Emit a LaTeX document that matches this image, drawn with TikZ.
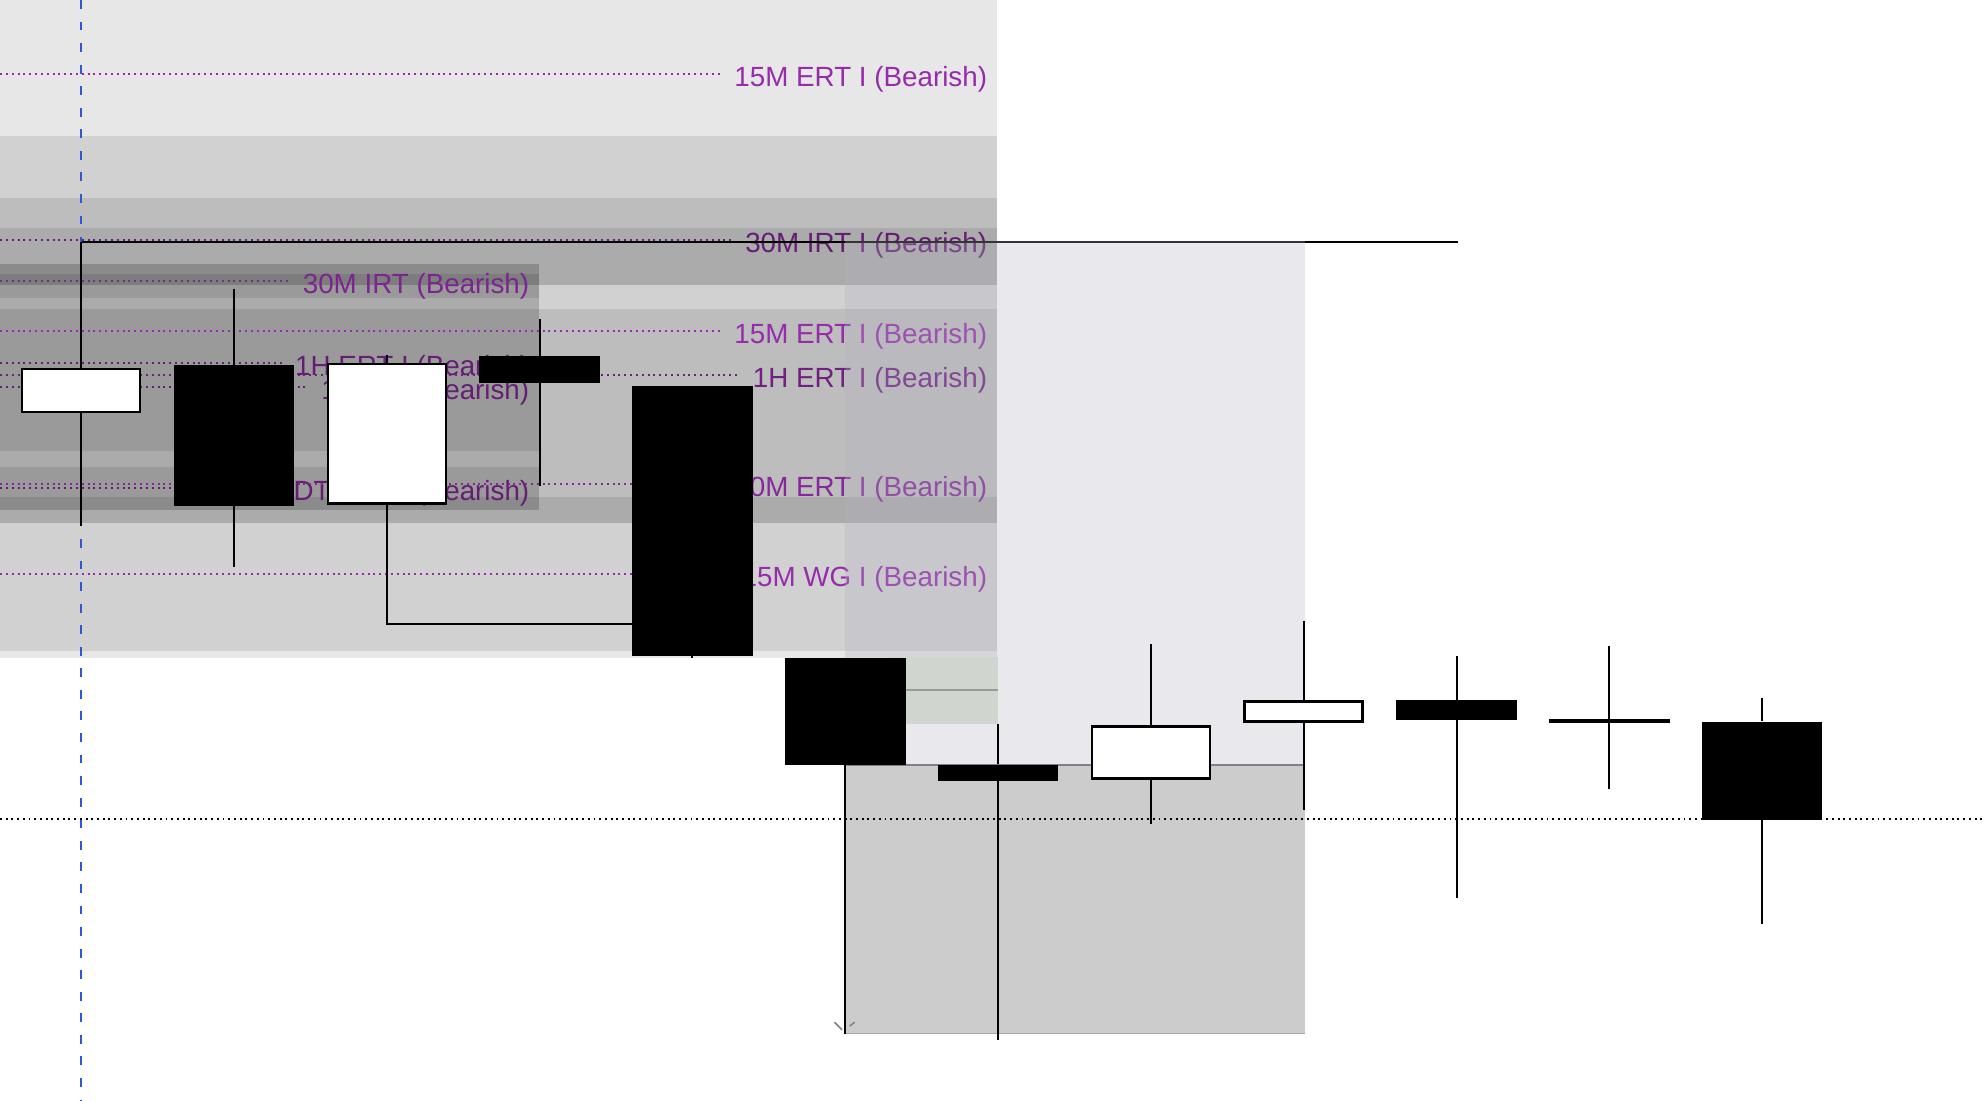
\documentclass[tikz,border=0pt]{standalone}
\usepackage{fontspec}
\setmainfont{Liberation Sans}

\definecolor{lvlbright}{RGB}{150,44,171}
\definecolor{lvlmid}{RGB}{134,40,154}
\definecolor{lvlsoft}{RGB}{124,36,144}
\definecolor{lvldark}{RGB}{112,32,128}
\definecolor{lvldeep}{RGB}{102,30,116}
\definecolor{pivotblue}{RGB}{48,86,216}
\definecolor{veil}{RGB}{176,176,193}
\definecolor{lowzone}{RGB}{204,204,204}
\definecolor{lowedge}{RGB}{126,128,142}
\definecolor{gapfill}{RGB}{208,213,208}
\definecolor{gapline}{RGB}{152,156,152}

\begin{document}
\begin{tikzpicture}[x=1pt, y=-1pt,
						% Define styles for labels, levels, zones and candles
						label style/.style={anchor=east, inner sep=0pt, text height=20pt, text depth=0pt, text=#1, font=\fontsize{21.9}{24}\selectfont},
						level line/.style={#1, line width=1.6pt, dash pattern=on 1.6pt off 3pt, shorten >=10pt},
						band/.style={fill=black, fill opacity=0.095},
						wick/.style={black, line width=1.6pt},
						bull/.style={rectangle, draw=black, line width=2pt, fill=white, minimum width=93pt, inner sep=0pt},
						bear/.style={rectangle, fill=black, minimum width=95pt, inner sep=0pt}
						]
						
						\fill[white] (0,0) rectangle (1566,867.4);
						\useasboundingbox (0,0) rectangle (1566,867.4);
						\coordinate (lx) at (0,0);
						
						% --- Zones ---
						\fill[band] (0,0) rectangle (786,519);
						\fill[band] (0,107) rectangle (786,513.5);
						\fill[band] (0,156) rectangle (786,225);
						\fill[band] (0,180) rectangle (786,225);
						\fill[band] (0,244) rectangle (786,412);
						\fill[band] (0,392) rectangle (786,412);
						\fill[band] (0,208) rectangle (425,402);
						\fill[band] (0,208) rectangle (425,356);
						\fill[band] (0,216) rectangle (425,235);
						\fill[band] (0,368) rectangle (425,402);
						
						% Define and place the level labels
						\node[label style=lvlbright] (r1) at (778.5,58.3) {15M ERT I (Bearish)};
						\node[label style=lvldeep] (r2) at (778.5,189.1) {30M IRT I (Bearish)};
						\node[label style=lvlbright] (r3) at (778.5,261.1) {15M ERT I (Bearish)};
						\node[label style=lvldark] (r4) at (778.5,295.8) {1H ERT I (Bearish)};
						\node[label style=lvlmid] (r5) at (778.5,381.6) {30M ERT I (Bearish)};
						\node[label style=lvlbright] (r6) at (778.5,452.6) {15M WG I (Bearish)};
						\node[label style=lvlsoft] (l1) at (417.5,221.7) {30M IRT (Bearish)};
						\node[label style=lvldeep] (l2) at (417.5,286.2) {1H ERT I (Bearish)};
						\node[label style=lvldeep] (l3) at (417.5,305.1) {1H IRT (Bearish)};
						\node[label style=lvldeep] (l4) at (417.5,384.7) {1H DT ERT I (Bearish)};
						
						% --- Draw the level lines ---
						\draw[level line=lvlbright] (r1.west -| lx) -- (r1.west);
						\draw[level line=lvldeep] (r2.west -| lx) -- (r2.west);
						\draw[level line=lvlbright] (r3.west -| lx) -- (r3.west);
						\draw[level line=lvldark] (r4.west -| lx) -- (r4.west);
						\draw[level line=lvlmid] (r5.west -| lx) -- (r5.west);
						\draw[level line=lvlbright] (r6.west -| lx) -- (r6.west);
						\draw[level line=lvlsoft] (l1.west -| lx) -- (l1.west);
						\draw[level line=lvldeep] (l2.west -| lx) -- (l2.west);
						\draw[level line=lvldeep] (l3.west -| lx) -- (l3.west);
						\draw[level line=lvldeep] (l4.west -| lx) -- (l4.west);
						
						% high of the first candle, carried right
						\coordinate (c1hi) at (64,191);
						\coordinate (hi) at (1150,191);
						\draw[wick] (c1hi) -- (hi);
						
						\draw[pivotblue, line width=1.5pt, dash pattern=on 7pt off 10pt] (64,0) -- (64,867.4);
						
						\fill[veil, fill opacity=0.29] (666,190) rectangle (1029,603);
						\fill[lowzone] (666,603) rectangle (1029,815);
						\draw[lowedge, line width=1.5pt] (666,603) -- (1029,603);
						\draw[black!35, line width=1pt] (666,815) -- (1029,815);
						\fill[gapfill] (700,518) rectangle (787,571);
						\draw[gapline, line width=1.5pt] (700,544) -- (787,544);
						
						\draw[black, line width=1.5pt, dash pattern=on 1.5pt off 3pt] (0,646) -- (1566,646);
						\draw[lowedge, line width=1.2pt] (658,806) -- (664,812);
						\draw[lowedge, line width=1.2pt] (670,809) -- (674,806);
						
						% --- Candles ---
						\node[bull, minimum height=34pt] (c1) at (64,308) {};
						\node[bear, minimum height=111pt] (c2) at (184.5,343.5) {};
						\node[bull, minimum height=110pt] (c3) at (305,342) {};
						\node[bear, minimum height=21pt] (c4) at (425.5,291.5) {};
						\node[bear, minimum height=213pt] (c5) at (546,410.5) {};
						\node[bear, minimum height=84pt] (c6) at (666.5,561) {};
						\node[bear, minimum height=13pt] (c7) at (787,609.5) {};
						\node[bull, minimum height=41pt] (c8) at (907.5,593.5) {};
						\node[bull, minimum height=16pt] (c9) at (1028,561) {};
						\node[bear, minimum height=15.6pt] (c10) at (1148.5,560) {};
						\node[bear, minimum height=3pt] (c11) at (1269,568.5) {};
						\node[bear, minimum height=77.5pt] (c12) at (1389.5,607.7) {};
						
						% --- Draw the wicks ---
						\draw[wick] (c1.north) -- (c1.north |- hi);
						\draw[wick] (c1.south) -- ++(0,89);
						\draw[wick] (c2.north) -- ++(0,-60);
						\draw[wick] (c2.south) -- ++(0,48);
						\draw[wick] (c3.north) -- ++(0,-6);
						\draw[wick] (c3.south) |- (c5.west |- 0,492);
						\draw[wick] (c4.north) -- ++(0,-29);
						\draw[wick] (c4.south) -- ++(0,81);
						\draw[wick] (c5.south) -- ++(0,2);
						\draw[wick] (c6.south) -- ++(0,212);
						\draw[wick] (c7.north) -- ++(0,-32);
						\draw[wick] (c7.south) -- ++(0,204);
						\draw[wick] (c8.north) -- ++(0,-64);
						\draw[wick] (c8.south) -- ++(0,35);
						\draw[wick] (c9.north) -- ++(0,-62);
						\draw[wick] (c9.south) -- ++(0,69);
						\draw[wick] (c10.north) -- ++(0,-35);
						\draw[wick] (c10.south) -- ++(0,140);
						\draw[wick] (c11.north) -- ++(0,-57.5);
						\draw[wick] (c11.south) -- ++(0,52);
						\draw[wick] (c12.north) -- ++(0,-18);
						\draw[wick] (c12.south) -- ++(0,82);
					\end{tikzpicture}
\end{document}
